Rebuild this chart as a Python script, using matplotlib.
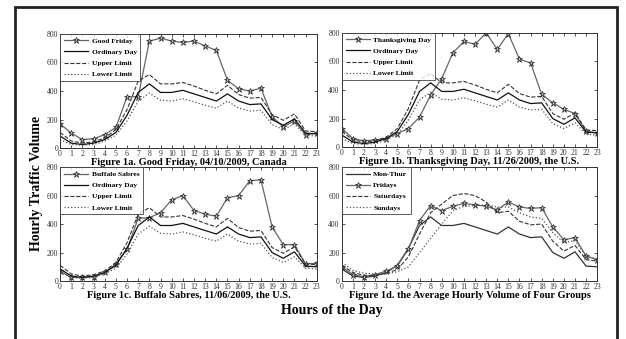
import numpy as np
import matplotlib.pyplot as plt
from matplotlib.patches import Rectangle

plt.rcParams['font.family'] = ['Liberation Serif', 'DejaVu Serif']
plt.rcParams['font.weight'] = 'bold'

hours = np.arange(24)

# hourly traffic volumes
ordinary = [85, 35, 25, 35, 60, 110, 230, 390, 450, 390, 390, 405,
            380, 355, 330, 380, 330, 305, 310, 200, 160, 205, 105, 100]
upper = [110, 50, 35, 45, 70, 130, 270, 470, 515, 450, 450, 460,
         435, 405, 380, 440, 375, 350, 355, 235, 195, 240, 120, 115]
lower = [60, 25, 20, 25, 50, 90, 190, 330, 385, 335, 330, 345,
         325, 300, 280, 330, 280, 260, 265, 165, 130, 170, 90, 85]
good_friday = [170, 105, 60, 65, 95, 145, 360, 360, 750, 770, 750, 740,
               750, 715, 685, 475, 415, 400, 420, 220, 150, 190, 95, 105]
thanksgiving = [130, 60, 45, 50, 60, 95, 130, 210, 365, 480, 660, 740,
                720, 800, 685, 795, 615, 590, 370, 310, 265, 235, 110, 100]
sabres = [70, 25, 25, 30, 60, 120, 225, 440, 445, 480, 570, 600,
          495, 470, 455, 585, 600, 705, 710, 380, 255, 255, 120, 125]
fridays = [100, 45, 30, 45, 70, 105, 225, 425, 530, 495, 525, 545,
           535, 525, 500, 555, 520, 510, 515, 380, 290, 305, 175, 150]
saturdays = [110, 60, 40, 40, 55, 80, 170, 330, 480, 540, 600, 615,
             600, 555, 480, 490, 420, 395, 400, 280, 210, 250, 150, 140]
sundays = [130, 75, 55, 50, 50, 65, 100, 200, 300, 400, 495, 525,
           530, 535, 520, 520, 480, 450, 440, 340, 270, 285, 175, 155]

captions = ["Figure 1a. Good Friday, 04/10/2009, Canada",
            "Figure 1b. Thanksgiving Day, 11/26/2009, the U.S.",
            "Figure 1c. Buffalo Sabres, 11/06/2009, the U.S.",
            "Figure 1d. the Average Hourly Volume of Four Groups"]

fig = plt.figure(figsize=(6.26, 3.39), dpi=100)
fig.patches.append(Rectangle((15 / 626, -0.01), 602 / 626, 1 - 7 / 339 + 0.01,
                             transform=fig.transFigure, fill=False,
                             edgecolor='#222222', lw=2))

positions = [[0.096, 0.563, 0.410, 0.337], [0.546, 0.566, 0.408, 0.337],
             [0.096, 0.171, 0.410, 0.336], [0.546, 0.171, 0.408, 0.336]]
axes = [fig.add_axes(p) for p in positions]

special = [(good_friday, "Good Friday"), (thanksgiving, "Thanksgiving Day"),
           (sabres, "Buffalo Sabres")]
for ax, (vals, name) in zip(axes[:3], special):
    ax.plot(hours, vals, '-', color='#666666', lw=0.9, marker='*',
            ms=5, mec='#222222', mfc='#bbbbbb', mew=0.5, label=name)
    ax.plot(hours, ordinary, '-', color='#111111', lw=0.9, label="Ordinary Day")
    ax.plot(hours, upper, '--', color='#333333', lw=0.8, label="Upper Limit")
    ax.plot(hours, lower, ':', color='#555555', lw=0.9, label="Lower Limit")

ax = axes[3]
ax.plot(hours, ordinary, '-', color='#333333', lw=0.9, label="Mon-Thur")
ax.plot(hours, fridays, '-', color='#666666', lw=0.9, marker='*',
        ms=5, mec='#222222', mfc='#bbbbbb', mew=0.5, label="Fridays")
ax.plot(hours, saturdays, '--', color='#333333', lw=0.8, label="Saturdays")
ax.plot(hours, sundays, ':', color='#555555', lw=0.9, label="Sundays")

for ax, cap in zip(axes, captions):
    ax.set_xlim(0, 23)
    ax.set_ylim(0, 800)
    ax.set_xticks(hours)
    ax.set_yticks([0, 200, 400, 600, 800])
    ax.tick_params(direction='in', top=True, right=True, length=2.5,
                   width=0.6, labelsize=5.6, pad=1.5, colors='#333333')
    for s in ax.spines.values():
        s.set_linewidth(0.7)
        s.set_color('#333333')
    for t in ax.get_xticklabels() + ax.get_yticklabels():
        t.set_fontweight('normal')
    leg = ax.legend(loc='upper left', fontsize=5.4, frameon=True,
                    fancybox=False, edgecolor='#333333', borderaxespad=0,
                    handlelength=3.2, labelspacing=0.65, borderpad=0.5,
                    handletextpad=0.5)
    leg.get_frame().set_linewidth(0.7)
    ax.set_xlabel(cap, fontsize=7.5, fontweight='bold', labelpad=0)

fig.text(0.058, 0.46, "Hourly Traffic Volume", rotation=90, fontsize=10,
         ha='center', va='center', fontweight='bold')
fig.text(0.53, 0.085, "Hours of the Day", fontsize=10, ha='center',
         va='center', fontweight='bold')

fig.savefig("out.png", dpi=100)
